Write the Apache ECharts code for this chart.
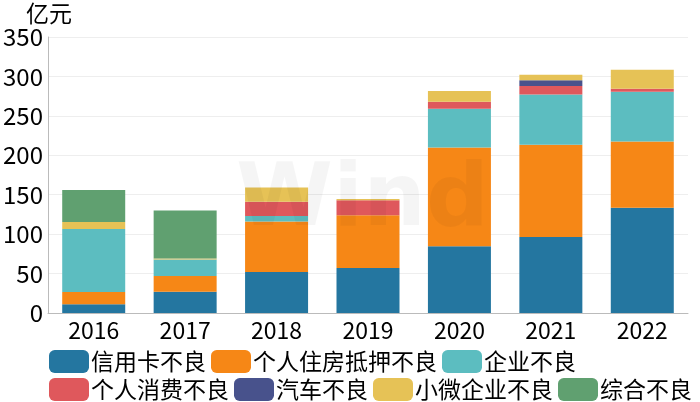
<!DOCTYPE html>
<html><head><meta charset="utf-8">
<script src="https://cdn.jsdelivr.net/npm/echarts@6/dist/echarts.min.js"></script>
<style>html,body{margin:0;padding:0;background:#fff}#c{width:700px;height:402px}</style>
</head><body><div id="c"></div>
<script>
const categories = ['2016','2017','2018','2019','2020','2021','2022'];
const seriesNames = ['信用卡不良','个人住房抵押不良','企业不良','个人消费不良','汽车不良','小微企业不良','综合不良'];
const creditCard = [11, 27, 52, 57, 84.5, 96.5, 133.5];
const mortgage = [15.5, 20, 64, 67, 125.5, 117, 84];
const corporate = [80, 21, 7, 0, 49, 63.5, 63];
const consumer = [0, 0, 18, 19, 9, 11, 4];
const auto = [0, 0, 0, 0, 0, 7, 0];
const smallMicro = [9, 1, 18, 1.5, 13.5, 7, 24];
const comprehensive = [40.5, 61, 0, 0, 0, 0, 0];
const yTicks = {min: 0, max: 350, interval: 50};
const colors = ['#2476a0','#f68716','#5cbdc0','#df585c','#48528c','#e6c256','#60a070'];
const values = [creditCard, mortgage, corporate, consumer, auto, smallMicro, comprehensive];
const FONT = '"Noto Sans CJK SC", "Noto Sans", sans-serif';

const chart = echarts.init(document.getElementById('c'), null, {renderer: 'canvas'});
chart.setOption({
  animation: false,
  color: colors,
  textStyle: {fontFamily: FONT},
  grid: {left: 48, right: 12, top: 37, bottom: 89},
  graphic: [{
    type: 'text', left: 236, top: 158, silent: true, z: 100,
    style: {text: 'Wind', fontSize: 88, fontWeight: 'bold', fontFamily: 'DejaVu Sans', fill: 'rgba(0,0,0,0.04)'}
  }],
  legend: {
    left: 44, top: 345, width: 660,
    itemWidth: 40, itemHeight: 23, itemGap: 5,
    icon: 'roundRect',
    textStyle: {fontSize: 23, lineHeight: 23, color: '#000', fontFamily: FONT, padding: [0, 0, 0, -3]},
    data: seriesNames
  },
  xAxis: {
    type: 'category', data: categories,
    axisLine: {lineStyle: {color: '#bbb'}},
    axisTick: {alignWithLabel: true, length: 5, lineStyle: {color: '#bbb'}},
    axisLabel: {fontSize: 23, color: '#000', margin: 6, fontFamily: FONT}
  },
  yAxis: {
    type: 'value', min: yTicks.min, max: yTicks.max, interval: yTicks.interval,
    name: '亿元', nameGap: 3,
    nameTextStyle: {fontSize: 23, color: '#000', fontFamily: FONT, align: 'left', padding: [0, 0, 0, -22]},
    axisLine: {show: true, lineStyle: {color: '#bbb'}},
    axisTick: {show: false},
    splitLine: {lineStyle: {color: '#eeeeee'}},
    axisLabel: {fontSize: 24, color: '#000', margin: 5, fontFamily: FONT}
  },
  series: seriesNames.map((n, i) => ({
    name: n, type: 'bar', stack: 'total', barWidth: 63,
    data: values[i], itemStyle: {color: colors[i]}
  }))
});
</script></body></html>
